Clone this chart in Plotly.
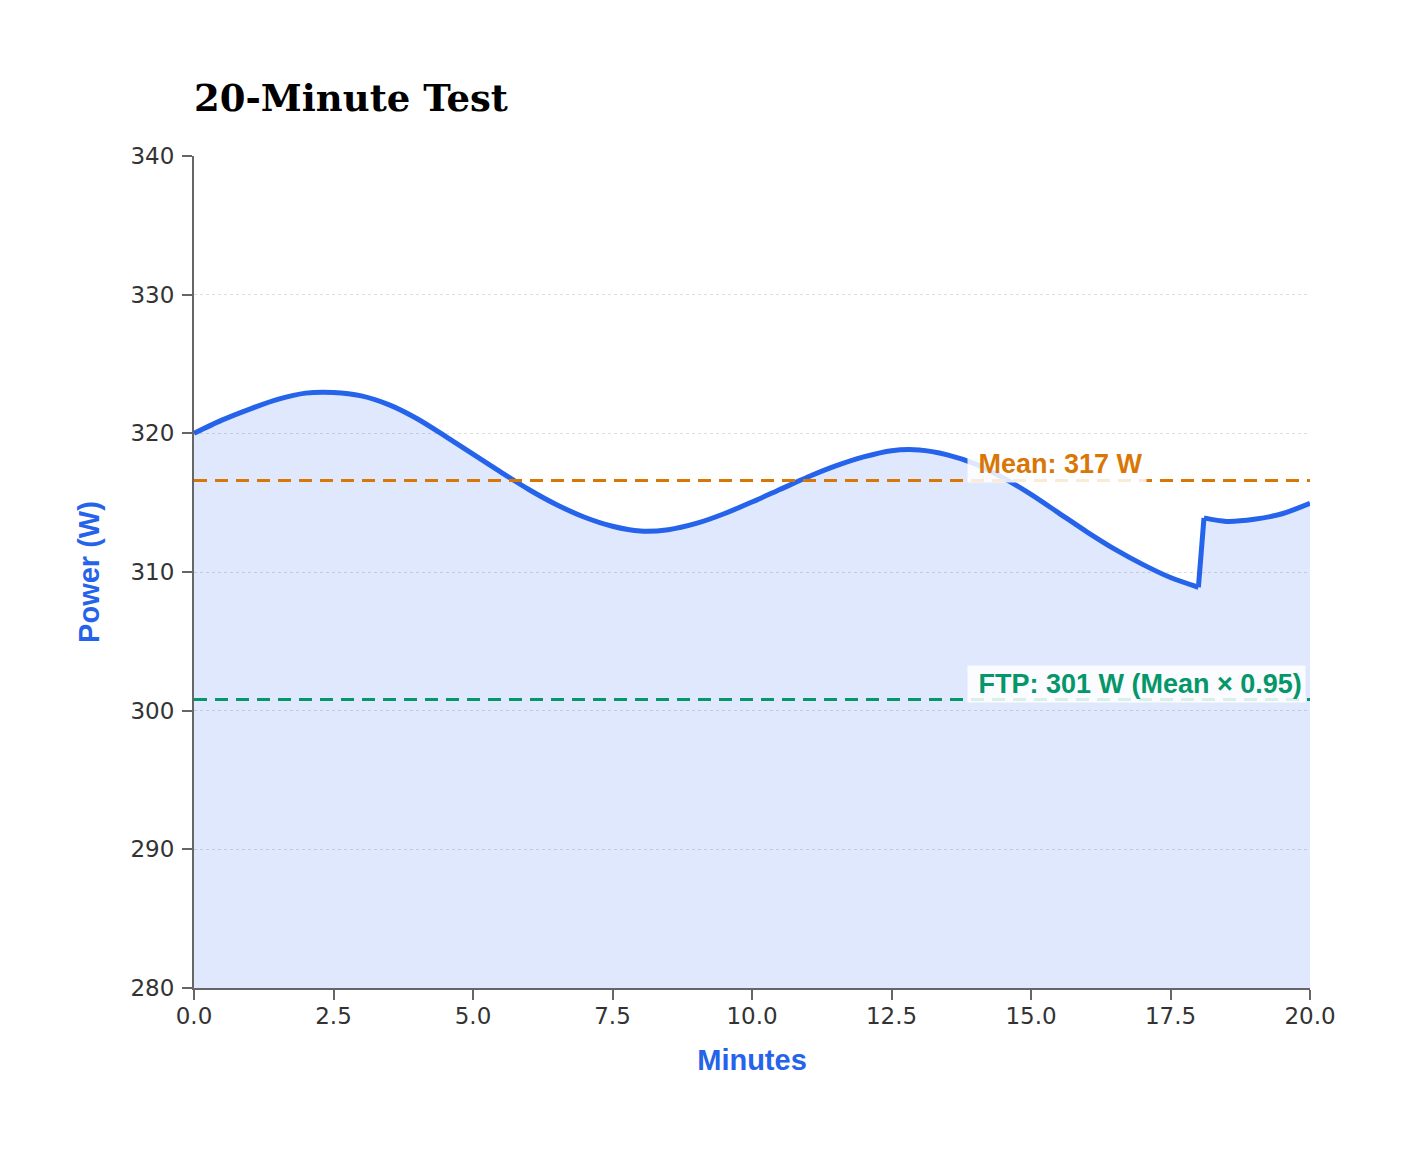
import plotly.graph_objects as go

# Data
minutes = [0.0, 0.5, 1.0, 1.5, 2.0, 2.5, 3.0, 3.5, 4.0, 4.5, 5.0, 5.5, 6.0, 6.5,
           7.0, 7.5, 8.0, 8.5, 9.0, 9.5, 10.0, 10.5, 11.0, 11.5, 12.0, 12.5,
           13.0, 13.5, 14.0, 14.5, 15.0, 15.5, 16.0, 16.5, 17.0, 17.5, 18.0,
           18.1, 18.5, 19.0, 19.5, 20.0]
power = [320.0, 320.95, 321.75, 322.45, 322.9, 322.95, 322.7, 322.05, 321.05, 319.8,
         318.5, 317.2, 315.95, 314.85, 313.95, 313.3, 312.95, 313.05, 313.5, 314.2,
         315.05, 315.95, 316.85, 317.65, 318.3, 318.75, 318.8, 318.45, 317.8, 316.8,
         315.6, 314.25, 312.9, 311.65, 310.55, 309.6, 308.9, 313.9, 313.65, 313.8,
         314.2, 314.95]
JUMP_AT = 18.0          # start of the sudden step in the trace
MEAN = 316.6
FTP = 300.8
mean_label = "Mean: 317 W"
ftp_label = "FTP: 301 W (Mean × 0.95)"
x_ticks = [0.0, 2.5, 5.0, 7.5, 10.0, 12.5, 15.0, 17.5, 20.0]
y_ticks = [280, 290, 300, 310, 320, 330, 340]

BLUE = "#2563eb"
ORANGE = "#d97706"
GREEN = "#059669"

fig = go.Figure()
# filled area under the trace
fig.add_trace(go.Scatter(
    x=minutes, y=power, mode="lines", line=dict(width=0, color=BLUE),
    fill="tozeroy", fillcolor="rgba(37,99,235,0.15)",
    hoverinfo="skip", showlegend=False,
))

# the trace itself: smooth before and after the step, straight across the step
k = minutes.index(JUMP_AT)
segments = [
    (minutes[:k + 1], power[:k + 1], "spline"),
    (minutes[k:k + 2], power[k:k + 2], "linear"),
    (minutes[k + 1:], power[k + 1:], "spline"),
]
for xs, ys, shp in segments:
    fig.add_trace(go.Scatter(
        x=xs, y=ys, mode="lines",
        line=dict(color=BLUE, width=5, shape=shp, smoothing=0.8),
        hoverinfo="x+y", showlegend=False,
    ))

fig.add_shape(type="line", xref="x", yref="y", x0=0, x1=20, y0=MEAN, y1=MEAN,
              line=dict(color=ORANGE, width=3, dash="13px,8px"))
fig.add_shape(type="line", xref="x", yref="y", x0=0, x1=20, y0=FTP, y1=FTP,
              line=dict(color=GREEN, width=3, dash="13px,8px"))

ann_font = "Liberation Sans, Arial, sans-serif"
for val, label, col in [(MEAN, mean_label, ORANGE), (FTP, ftp_label, GREEN)]:
    fig.add_annotation(x=13.85, y=val, xref="x", yref="y",
                       text=f"<b>\u00a0{label}</b>",
                       showarrow=False, xanchor="left", yanchor="bottom", yshift=-3,
                       font=dict(family=ann_font, size=27, color=col),
                       bgcolor="rgba(255,255,255,0.85)", borderpad=3)

tick_font = dict(family="DejaVu Sans, sans-serif", size=23, color="#333333")
title_font = dict(family=ann_font, size=29, color=BLUE)

fig.update_layout(
    width=1419, height=1158,
    margin=dict(l=194, r=109, t=156, b=170),
    paper_bgcolor="white", plot_bgcolor="white",
    title=dict(text="<b>20-Minute Test</b>", x=194/1419, xanchor="left",
               xref="container", y=1-98/1158, yanchor="middle", yref="container",
               font=dict(family="Georgia, DejaVu Serif, serif", size=37, color="#000000")),
    xaxis=dict(range=[0, 20], tickvals=x_ticks, ticktext=[f"{v:.1f}" for v in x_ticks],
               showgrid=False, zeroline=False, showline=True, linecolor="#666666",
               linewidth=2, ticks="outside", ticklen=10, tickcolor="#666666",
               tickwidth=2, tickfont=tick_font, ticklabelstandoff=-4,
               title=dict(text="<b>Minutes</b>", font=title_font, standoff=22)),
    yaxis=dict(range=[280, 340], tickvals=y_ticks, showgrid=True, gridcolor="#dddddd",
               griddash="dot", gridwidth=1, zeroline=False, showline=True,
               linecolor="#666666", linewidth=2, ticks="outside", ticklen=10,
               tickcolor="#666666", tickwidth=2, tickfont=tick_font,
               ticklabelstandoff=3,
               title=dict(text="<b>Power (W)</b>", font=title_font, standoff=22)),
)

fig.write_html("out.html")
